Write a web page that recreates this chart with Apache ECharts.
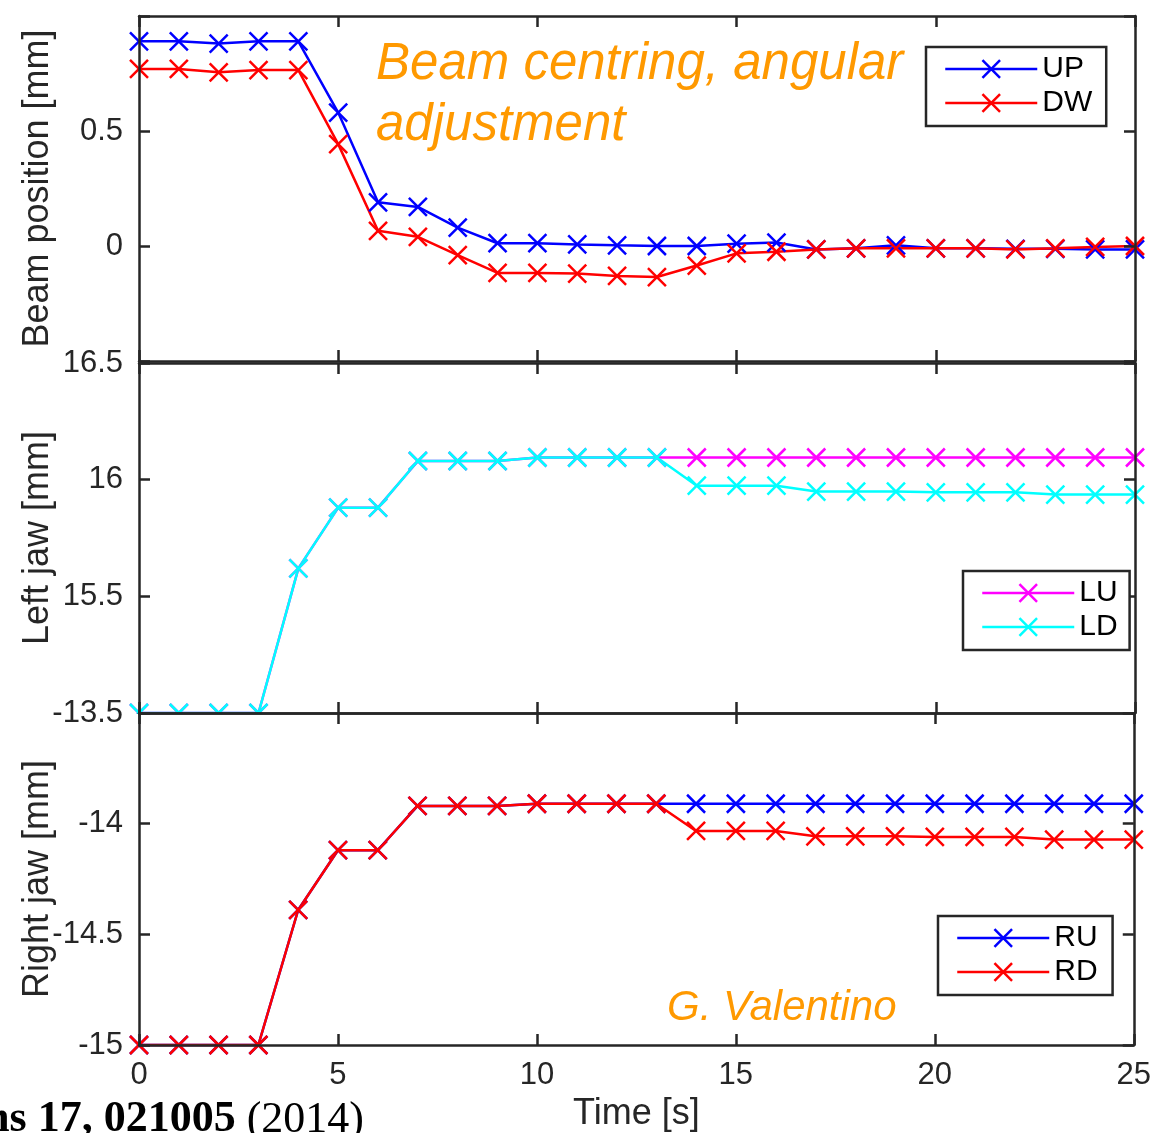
<!DOCTYPE html>
<html><head><meta charset="utf-8">
<script src="https://cdn.jsdelivr.net/npm/echarts@6/dist/echarts.min.js"></script>
<style>html,body{margin:0;padding:0;background:#fff}#c{width:1154px;height:1133px}</style>
</head><body><div id="c"></div>
<script>
// ---------- data ----------
const time = [0,1,2,3,4,5,6,7,8,9,10,11,12,13,14,15,16,17,18,19,20,21,22,23,24,25];
const UP = [0.89,0.89,0.88,0.89,0.89,0.58,0.19,0.17,0.08,0.012,0.012,0.007,0.003,0.0,0.0,0.01,0.015,-0.015,-0.01,0.003,-0.01,-0.01,-0.012,-0.012,-0.015,-0.015];
const DW = [0.77,0.77,0.755,0.765,0.765,0.443,0.066,0.04,-0.04,-0.117,-0.117,-0.12,-0.13,-0.135,-0.085,-0.032,-0.025,-0.015,-0.01,-0.01,-0.01,-0.01,-0.015,-0.01,-0.004,0.0];
const LU = [15,15,15,15,15.62,15.88,15.88,16.08,16.08,16.08,16.095,16.095,16.095,16.095,16.095,16.095,16.095,16.095,16.095,16.095,16.095,16.095,16.095,16.095,16.095,16.095];
const LD = [15,15,15,15,15.62,15.88,15.88,16.08,16.08,16.08,16.095,16.095,16.095,16.095,15.974,15.974,15.974,15.949,15.949,15.949,15.946,15.946,15.946,15.936,15.936,15.936];
const RU = [-15,-15,-15,-15,-14.39,-14.12,-14.12,-13.92,-13.92,-13.92,-13.91,-13.91,-13.91,-13.91,-13.91,-13.91,-13.91,-13.91,-13.91,-13.91,-13.91,-13.91,-13.91,-13.91,-13.91,-13.91];
const RD = [-15,-15,-15,-15,-14.39,-14.12,-14.12,-13.92,-13.92,-13.92,-13.91,-13.91,-13.91,-13.91,-14.033,-14.033,-14.033,-14.057,-14.057,-14.057,-14.06,-14.06,-14.06,-14.072,-14.072,-14.072];

const xTickLabels = ['0','5','10','15','20','25'];
const beamTickLabels = ['0.5','0'];
const leftTickLabels = ['16.5','16','15.5'];
const rightTickLabels = ['-13.5','-14','-14.5','-15'];

// ---------- styling ----------
const FONT = '"Liberation Sans", Arial, Helvetica, sans-serif';
const AX = '#262626';
const XSYM = 'path://M0,0L10,10M10,0L0,10';
const GL = 139, GW = 996;
const panels = [
  {top: 16, height: 345, min: -0.5, max: 1, name: 'Beam position [mm]', labels: beamTickLabels},
  {top: 363, height: 350, min: 15, max: 16.5, name: 'Left jaw [mm]', labels: leftTickLabels},
  {top: 713, height: 332, min: -15, max: -13.5, name: 'Right jaw [mm]', labels: rightTickLabels}
];

function lineAx() { return {show: true, onZero: false, lineStyle: {color: AX, width: 2.5}}; }
function tickAx() { return {show: true, inside: true, length: 11, lineStyle: {color: AX, width: 2.5}}; }

const grid = [], xAxis = [], yAxis = [];
panels.forEach((p, i) => {
  grid.push({left: GL, width: GW, top: p.top, height: p.height, containLabel: false});
  const last = i === panels.length - 1;
  xAxis.push({
    type: 'value', gridIndex: i, position: 'bottom', min: 0, max: 25, interval: 5, z: 3,
    axisLine: lineAx(), axisTick: tickAx(), splitLine: {show: false},
    axisLabel: {show: last, margin: 15, color: AX, fontSize: 31, fontFamily: FONT,
      formatter: v => xTickLabels.includes(String(v)) ? String(v) : ''},
    name: last ? 'Time [s]' : '', nameLocation: 'middle', nameGap: 51, nameMoveOverlap: false,
    nameTextStyle: {color: AX, fontSize: 36, fontFamily: FONT}
  });
  xAxis.push({
    type: 'value', gridIndex: i, position: 'top', min: 0, max: 25, interval: 5, z: 3,
    axisLine: lineAx(), axisTick: tickAx(), splitLine: {show: false}, axisLabel: {show: false}
  });
  yAxis.push({
    type: 'value', gridIndex: i, position: 'left', min: p.min, max: p.max, interval: 0.5, z: 3,
    axisLine: lineAx(), axisTick: tickAx(), splitLine: {show: false},
    axisLabel: {show: true, margin: 16, color: AX, fontSize: 31, fontFamily: FONT,
      formatter: v => p.labels.includes(String(v)) ? String(v) : ''},
    name: p.name, nameLocation: 'middle', nameGap: 83, nameMoveOverlap: false,
    nameTextStyle: {color: AX, fontSize: 36, fontFamily: FONT}
  });
  yAxis.push({
    type: 'value', gridIndex: i, position: 'right', min: p.min, max: p.max, interval: 0.5, z: 3,
    axisLine: lineAx(), axisTick: tickAx(), splitLine: {show: false}, axisLabel: {show: false}
  });
});

function lineSeries(name, color, vals, gi, z) {
  return {
    name, type: 'line', xAxisIndex: 2 * gi, yAxisIndex: 2 * gi,
    data: time.map((t, j) => [t, vals[j]]),
    symbol: XSYM, symbolSize: 18, showAllSymbol: true, clip: false, z,
    lineStyle: {color, width: 2.5},
    itemStyle: {color, borderColor: color, borderWidth: 2.5},
    emphasis: {disabled: true}, animation: false
  };
}

const series = [
  lineSeries('UP', '#0000FF', UP, 0, 2),
  lineSeries('DW', '#FF0000', DW, 0, 2),
  lineSeries('LU', '#FF00FF', LU, 1, 0.5),
  lineSeries('LD', '#00FFFF', LD, 1, 0.5),
  lineSeries('RU', '#0000FF', RU, 2, 2),
  lineSeries('RD', '#FF0000', RD, 2, 2)
];

function legendAt(names, left, top, padRight) {
  return {
    data: names, orient: 'vertical', left, top,
    padding: [7, padRight, 8, 18], itemGap: 4, itemWidth: 92, itemHeight: 22,
    borderColor: AX, borderWidth: 2.5, backgroundColor: '#fff', z: 5,
    lineStyle: {width: 2.5}, itemStyle: {borderWidth: 2.5},
    textStyle: {color: '#000', fontSize: 30, fontFamily: FONT, lineHeight: 30},
    selectedMode: false
  };
}

const option = {
  backgroundColor: '#fff',
  animation: false,
  grid, xAxis, yAxis, series,
  legend: [
    legendAt(['UP', 'DW'], 926, 47, 14),
    legendAt(['LU', 'LD'], 963, 571, 12),
    legendAt(['RU', 'RD'], 938, 916, 15)
  ],
  graphic: [
    // white backing of the lower axes (hides the part of middle-panel marks that falls below it)
    {type: 'rect', z: 1, silent: true, shape: {x: 128, y: 714, width: 1020, height: 331}, style: {fill: '#fff'}},
    {type: 'text', z: 6, x: 376, y: 34, style: {
      text: 'Beam centring, angular\nadjustment', fill: '#FF9900',
      font: 'italic 51px ' + FONT, lineHeight: 61}},
    {type: 'text', z: 6, x: 667, y: 988, style: {
      text: 'G. Valentino', fill: '#FF9900', font: 'italic 42px ' + FONT, lineHeight: 41}},
    {type: 'text', z: 6, x: -98, y: 1098, style: {
      text: '{b|Beams 17, 021005 }{r|(2014)}',
      rich: {
        b: {fontFamily: '"Liberation Serif", "Times New Roman", serif', fontWeight: 'bold', fontSize: 44, fill: '#000', lineHeight: 44},
        r: {fontFamily: '"Liberation Serif", "Times New Roman", serif', fontWeight: 'normal', fontSize: 44, fill: '#000', lineHeight: 44}
      }}}
  ]
};

const chart = echarts.init(document.getElementById('c'), null, {renderer: 'canvas'});
chart.setOption(option);
</script>
</body></html>
